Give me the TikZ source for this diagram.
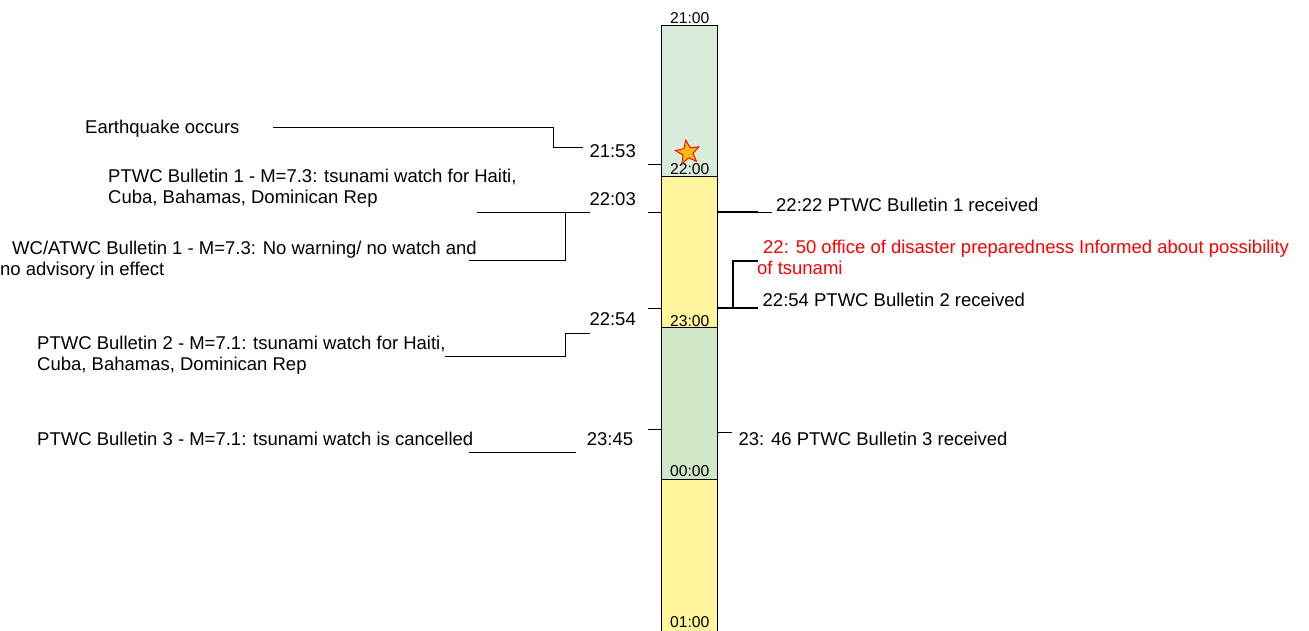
\documentclass[tikz,border=0pt]{standalone}
\usepackage{fontspec}
\setmainfont{Liberation Sans}
\usetikzlibrary{shapes.geometric}
\definecolor{gA}{RGB}{217,235,218}
\definecolor{gB}{RGB}{208,232,200}
\definecolor{yl}{RGB}{255,246,157}
\definecolor{stfill}{RGB}{255,184,20}
\definecolor{txtred}{RGB}{255,0,0}
\begin{document}
\begin{tikzpicture}[x=1pt,y=-1pt,
  lbl/.style={anchor=base west,inner sep=0pt,font=\fontsize{18.5}{21}\selectfont,align=left},
  barlbl/.style={anchor=base,inner sep=0pt,font=\fontsize{15.7}{18}\selectfont},
  conn/.style={line width=1pt},
  thick conn/.style={line width=1.7pt},
  seg/.style={draw=black,line width=1pt}]
\useasboundingbox (0,0) rectangle (1309,630);
% bar segments
\path[seg,fill=gA] (661.7,25.7) rectangle (717.7,176.7);
\path[seg,fill=yl] (661.7,176.7) rectangle (717.7,327.3);
\path[seg,fill=gB] (661.7,327.3) rectangle (717.7,479);
\path[seg,fill=yl] (661.7,479) rectangle (717.7,640);
% bar labels
\node[barlbl] (t21) at (689.7,23.3) {21:00};
\node[barlbl] (t22) at (689.7,174) {22:00};
\node[barlbl] (t23) at (689.7,326) {23:00};
\node[barlbl] (t00) at (689.7,476.7) {00:00};
\node[barlbl] (t01) at (689.7,627.7) {01:00};
% star
\node[star,star points=5,star point ratio=2.3,minimum size=25pt,inner sep=0pt,
  fill=stfill,draw=red,line width=0.9pt,rotate=9] (quake) at (687.7,152.5) {};
% left ticks
\coordinate (lt1a) at (647.7,164.7); \coordinate (lt1b) at (661.7,164.7);
\coordinate (lt2a) at (647.7,212.3); \coordinate (lt2b) at (661.7,212.3);
\coordinate (lt3a) at (647.7,308.3); \coordinate (lt3b) at (661.7,308.3);
\coordinate (lt4a) at (647.7,429); \coordinate (lt4b) at (661.7,429);
\draw[conn] (lt1a) -- (lt1b);
\draw[conn] (lt2a) -- (lt2b);
\draw[conn] (lt3a) -- (lt3b);
\draw[conn] (lt4a) -- (lt4b);
% time labels
\node[lbl] (h2153) at (589.3,157.7) {21:53};
\node[lbl] (h2203) at (589.3,205.3) {22:03};
\node[lbl] (h2254) at (589.3,325.7) {22:54};
\node[lbl] (h2345) at (586.7,445) {23:45};
% left texts (base anchor = baseline of the last line)
\node[lbl] (eq) at (85,133) {Earthquake occurs};
\node[lbl] (pb1) at (108,203.5) {PTWC Bulletin 1 - M=7.3: tsunami watch for Haiti,\\Cuba, Bahamas, Dominican Rep};
\node[lbl] (wc1) at (0,275.5) {\hspace*{12pt}WC/ATWC Bulletin 1 - M=7.3: No warning/ no watch and\\no advisory in effect};
\node[lbl] (pb2) at (37,370.5) {PTWC Bulletin 2 - M=7.1: tsunami watch for Haiti,\\Cuba, Bahamas, Dominican Rep};
\node[lbl] (pb3) at (37,445.3) {PTWC Bulletin 3 - M=7.1: tsunami watch is cancelled};
% right texts
\node[lbl] (r1) at (776,211.5) {22:22 PTWC Bulletin 1 received};
\node[lbl,text=txtred] (odp) at (757,274.5) {\hspace*{6pt}22: 50 office of disaster preparedness Informed about possibility\\of tsunami};
\node[lbl] (r2) at (762.5,306.7) {22:54 PTWC Bulletin 2 received};
\node[lbl] (r3) at (738.3,445) {23: 46 PTWC Bulletin 3 received};
% left connectors
\coordinate (eqA) at (273,127.7); \coordinate (eqB) at (553.3,127.7);
\coordinate (eqC) at (553.3,147.3); \coordinate (eqD) at (582.7,147.3);
\draw[conn] (eqA) -- (eqB) -- (eqC) -- (eqD);
\coordinate (b1A) at (477,212.5); \coordinate (b1B) at (590,212.5);
\coordinate (b1J) at (565.3,212.5); \coordinate (b1K) at (565.3,260.7); \coordinate (b1L) at (469,260.7);
\draw[conn] (b1A) -- (b1B);
\draw[conn] (b1J) -- (b1K) -- (b1L);
\coordinate (b2A) at (589.7,333); \coordinate (b2B) at (565.3,333);
\coordinate (b2C) at (565.3,356.7); \coordinate (b2D) at (445,356.7);
\draw[conn] (b2A) -- (b2B) -- (b2C) -- (b2D);
\coordinate (b3A) at (469.3,452.7); \coordinate (b3B) at (576,452.7);
\draw[conn] (b3A) -- (b3B);
% right connectors
\coordinate (rA) at (717.7,212.3); \coordinate (rB) at (757.7,212.3); \coordinate (rC) at (771.7,212.3);
\draw[thick conn] (rA) -- (rB);
\draw[conn] (rB) -- (rC);
\coordinate (sA) at (717.7,308.3); \coordinate (sB) at (757.7,308.3);
\coordinate (sJ) at (733.3,308.3); \coordinate (sK) at (733.3,260.7); \coordinate (sL) at (757.7,260.7);
\draw[thick conn] (sA) -- (sB);
\draw[thick conn] (sJ) -- (sK) -- (sL);
\coordinate (uA) at (717.7,432.7); \coordinate (uB) at (732,432.7);
\draw[conn] (uA) -- (uB);
\end{tikzpicture}
\end{document}
